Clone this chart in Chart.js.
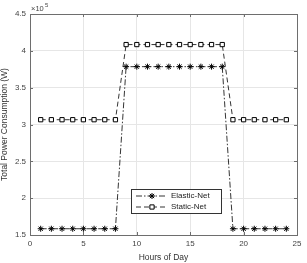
<!DOCTYPE html>
<html>
<head>
<meta charset="utf-8">
<script src="https://cdn.jsdelivr.net/npm/chart.js@4.4.0/dist/chart.umd.min.js"></script>
<style>
  html, body { margin: 0; padding: 0; background: #fff; }
  #wrap { width: 307px; height: 263px; }
</style>
</head>
<body>
<div id="wrap"><canvas id="grafico" width="307" height="263"></canvas></div>
<script>
// datos (valores en unidades de 10^5 W)
const horas = [1, 2, 3, 4, 5, 6, 7, 8, 9, 10, 11, 12, 13, 14, 15, 16, 17, 18, 19, 20, 21, 22, 23, 24];
const elasticNet = [1.585, 1.585, 1.585, 1.585, 1.585, 1.585, 1.585, 1.585,
                    3.785, 3.785, 3.785, 3.785, 3.785, 3.785, 3.785, 3.785, 3.785, 3.785,
                    1.585, 1.585, 1.585, 1.585, 1.585, 1.585];
const staticNet = [3.065, 3.065, 3.065, 3.065, 3.065, 3.065, 3.065, 3.065,
                   4.085, 4.085, 4.085, 4.085, 4.085, 4.085, 4.085, 4.085, 4.085, 4.085,
                   3.065, 3.065, 3.065, 3.065, 3.065, 3.065];
const xTicks = [0, 5, 10, 15, 20, 25];
const yTicks = [1.5, 2, 2.5, 3, 3.5, 4, 4.5];
const etiquetas = ['Elastic-Net', 'Static-Net'];

const fuente = '"Liberation Sans", Arial, sans-serif';
const ejeColor = '#6e6e6e';

const series = [
  { label: etiquetas[0], data: elasticNet, dash: [6, 2, 1.5, 2], punto: 'star' },
  { label: etiquetas[1], data: staticNet, dash: [5, 3], punto: 'rect' }
];

// caja, ticks hacia dentro, exponente y leyenda estilo matlab
const estiloMatlab = {
  id: 'estiloMatlab',
  afterDraw(chart) {
    const ctx = chart.ctx;
    const a = chart.chartArea;
    const xs = chart.scales.x;
    const ys = chart.scales.y;
    ctx.save();
    ctx.strokeStyle = ejeColor;
    ctx.lineWidth = 1;
    ctx.setLineDash([]);
    ctx.strokeRect(Math.round(a.left) + 0.5, Math.round(a.top) + 0.5,
                   Math.round(a.right - a.left), Math.round(a.bottom - a.top));
    ctx.beginPath();
    xTicks.forEach(t => {
      const px = Math.round(xs.getPixelForValue(t)) + 0.5;
      ctx.moveTo(px, a.bottom); ctx.lineTo(px, a.bottom - 3);
      ctx.moveTo(px, a.top); ctx.lineTo(px, a.top + 3);
    });
    yTicks.forEach(t => {
      const py = Math.round(ys.getPixelForValue(t)) + 0.5;
      ctx.moveTo(a.left, py); ctx.lineTo(a.left + 3, py);
      ctx.moveTo(a.right, py); ctx.lineTo(a.right - 3, py);
    });
    ctx.stroke();

    // exponente
    ctx.fillStyle = '#444';
    ctx.font = '7.5px ' + fuente;
    ctx.textBaseline = 'alphabetic';
    ctx.textAlign = 'left';
    ctx.fillText('\u00d710', a.left + 1, a.top - 3);
    ctx.font = '6px ' + fuente;
    ctx.fillText('5', a.left + 15, a.top - 7);

    // leyenda
    const lx = 131, ly = 189, lw = 90, lh = 24;
    ctx.fillStyle = '#fff';
    ctx.fillRect(lx, ly, lw, lh);
    ctx.strokeStyle = '#333';
    ctx.strokeRect(lx + 0.5, ly + 0.5, lw, lh);
    series.forEach((s, i) => {
      const cy = ly + 7 + i * 11;
      ctx.strokeStyle = '#000';
      ctx.lineWidth = 0.8;
      ctx.setLineDash(s.dash);
      ctx.beginPath();
      ctx.moveTo(lx + 5, cy); ctx.lineTo(lx + 36, cy);
      ctx.stroke();
      ctx.setLineDash([]);
      ctx.fillStyle = '#fff';
      ctx.lineWidth = 1;
      Chart.helpers.drawPoint(ctx, { pointStyle: s.punto, radius: 3, borderWidth: 1, rotation: 0 }, lx + 21, cy);
      ctx.fillStyle = '#222';
      ctx.font = '8px ' + fuente;
      ctx.textBaseline = 'middle';
      ctx.fillText(s.label, lx + 40, cy);
    });
    ctx.restore();
  }
};

new Chart(document.getElementById('grafico'), {
  type: 'line',
  data: {
    datasets: series.map(s => ({
      label: s.label,
      data: horas.map((h, i) => ({ x: h, y: s.data[i] })),
      borderColor: '#000',
      borderWidth: 0.8,
      borderDash: s.dash,
      pointStyle: s.punto,
      pointRadius: 3,
      pointBorderWidth: 1,
      pointBorderColor: '#000',
      pointBackgroundColor: '#fff',
      fill: false,
      tension: 0
    }))
  },
  plugins: [estiloMatlab],
  options: {
    responsive: false,
    animation: false,
    layout: { padding: { top: 14, right: 10, left: 0, bottom: 0 } },
    plugins: {
      legend: { display: false },
      tooltip: { enabled: false }
    },
    scales: {
      x: {
        type: 'linear',
        min: 0, max: 25,
        afterBuildTicks: sc => { sc.ticks = xTicks.map(v => ({ value: v })); },
        afterFit: sc => { sc.height = 28; },
        grid: { color: '#e6e6e6', lineWidth: 1, drawTicks: false },
        border: { display: false },
        ticks: { color: '#444', font: { family: fuente, size: 8 }, padding: 4, maxRotation: 0 },
        title: { display: true, text: 'Hours of Day', color: '#333', font: { family: fuente, size: 8.5 }, padding: { top: 1, bottom: 0 } }
      },
      y: {
        min: 1.5, max: 4.5,
        afterBuildTicks: sc => { sc.ticks = yTicks.map(v => ({ value: v })); },
        afterFit: sc => { sc.width = 30; },
        grid: { color: '#e6e6e6', lineWidth: 1, drawTicks: false },
        border: { display: false },
        ticks: { color: '#444', font: { family: fuente, size: 8 }, padding: 4, callback: v => String(v) },
        title: { display: true, text: 'Total Power Consumption (W)', color: '#333', font: { family: fuente, size: 8.5 }, padding: { top: 0, bottom: 1 } }
      }
    }
  }
});
</script>
</body>
</html>
